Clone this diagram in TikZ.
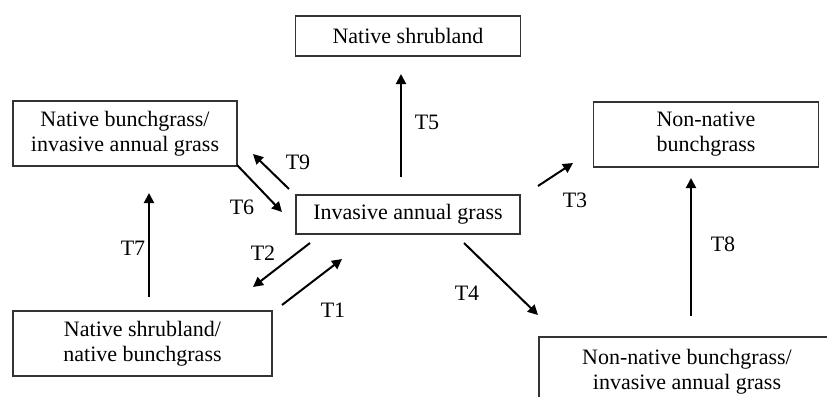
\documentclass[tikz,border=0pt]{standalone}
\usepackage{fontspec}
\setmainfont{Liberation Serif}
\usetikzlibrary{arrows.meta}
\tikzset{
  statebox/.style={draw=black!80, line width=0.7pt, align=center, inner sep=0pt,
    font=\fontsize{11}{12.5}\selectfont},
  trans/.style={line width=1pt, -{Triangle[length=5pt,width=5pt]}},
  translabel/.style={inner sep=0pt, font=\fontsize{11}{12.5}\selectfont}
}
\begin{document}
\begin{tikzpicture}[x=0.5pt,y=-0.5pt]

        \clip (0,0) rectangle (827,397);

        % States
        \node[statebox, minimum width=112.5pt, minimum height=20pt] (shrub) at (408,36) {Native shrubland};
        \node[statebox, minimum width=112pt, minimum height=32.5pt] (nbig) at (125,133.5) {Native bunchgrass/\\invasive annual grass};
        \node[statebox, minimum width=112.5pt, minimum height=32.5pt] (nnb) at (706,134.5) {Non-native\\bunchgrass};
        \node[statebox, minimum width=112pt, minimum height=19.5pt] (iag) at (408,214.5) {Invasive annual grass};
        \node[statebox, minimum width=129.5pt, minimum height=32.5pt] (nsnb) at (142.5,343.5) {Native shrubland/\\native bunchgrass};
        \node[statebox, minimum width=148pt, minimum height=35pt] (nnbi) at (687,372) {Non-native bunchgrass/\\invasive annual grass};

        % Arrow ends
        \coordinate (a5) at (401,177);  \coordinate (b5) at (401,74);
        \coordinate (a9) at (289,189);  \coordinate (b9) at (253,154);
        \coordinate (a6) at (237,165);  \coordinate (b6) at (282,212);
        \coordinate (a7) at (149,297);  \coordinate (b7) at (149,193);
        \coordinate (a2) at (310,243);  \coordinate (b2) at (253,287);
        \coordinate (a1) at (282,305);  \coordinate (b1) at (342,259);
        \coordinate (a3) at (538,186);  \coordinate (b3) at (573,163);
        \coordinate (a4) at (464,243);  \coordinate (b4) at (538,315);
        \coordinate (a8) at (691,316);  \coordinate (b8) at (691,178);

        % Transitions
        \draw[trans] (a1) -- (b1);
        \draw[trans] (a2) -- (b2);
        \draw[trans] (a3) -- (b3);
        \draw[trans] (a4) -- (b4);
        \draw[trans] (a5) -- (b5);
        \draw[trans] (a6) -- (b6);
        \draw[trans] (a7) -- (b7);
        \draw[trans] (a8) -- (b8);
        \draw[trans] (a9) -- (b9);

        % Labels
        \node[translabel] (t1) at (333,310) {T1};
        \node[translabel] (t2) at (263,253) {T2};
        \node[translabel] (t3) at (575,200) {T3};
        \node[translabel] (t4) at (467,293) {T4};
        \node[translabel] (t5) at (427,122) {T5};
        \node[translabel] (t6) at (242,207) {T6};
        \node[translabel] (t7) at (133,248) {T7};
        \node[translabel] (t8) at (723,244) {T8};
        \node[translabel] (t9) at (298,162) {T9};

\end{tikzpicture}
\end{document}
